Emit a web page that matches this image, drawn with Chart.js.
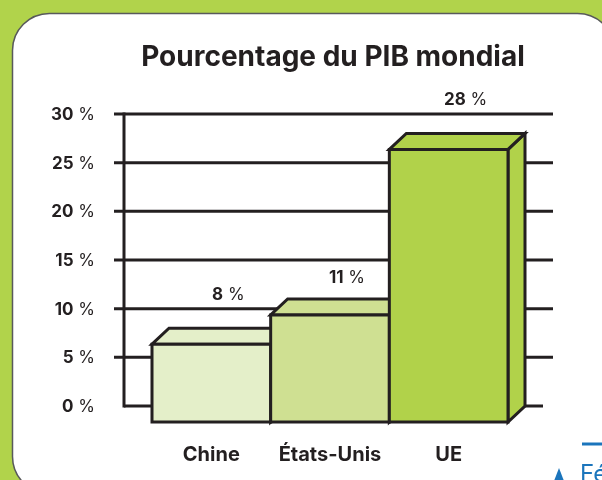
<!DOCTYPE html>
<html>
<head>
<meta charset="utf-8">
<script src="https://cdn.jsdelivr.net/npm/chart.js@4.4.0/dist/chart.umd.min.js"></script>
<style>
  html, body { margin: 0; padding: 0; background: #b1d34b; }
  #wrap { width: 602px; height: 480px; position: relative; }
</style>
</head>
<body>
<div id="wrap"><canvas id="pib" width="602" height="480"></canvas></div>
<script>
var categories = ['Chine', 'États-Unis', 'UE'];
var pibShare = [8, 11, 28];
var yTicks = [0, 5, 10, 15, 20, 25, 30];
var barColors = ['#e4efc9', '#cfe092', '#b1d24a'];

var INK = '#231f20';
var DEPTH_X = 17, DEPTH_Y = 16;

// number in bold, the " %" in regular weight
function drawPercent(c, num, x, y, align, size) {
  c.font = 'bold ' + size + 'px Inter';
  var wNum = c.measureText(num).width;
  c.font = size + 'px Inter';
  var wPct = c.measureText(' %').width;
  var start = align === 'right' ? x - wNum - wPct : x - (wNum + wPct) / 2;
  c.textAlign = 'left';
  c.font = 'bold ' + size + 'px Inter';
  c.fillText(num, start, y);
  c.font = size + 'px Inter';
  c.fillText(' %', start + wNum, y);
}

function roundRect(c, x, y, w, h, r) {
  c.beginPath();
  c.moveTo(x + r, y);
  c.lineTo(x + w - r, y);
  c.arcTo(x + w, y, x + w, y + r, r);
  c.lineTo(x + w, y + h - r);
  c.arcTo(x + w, y + h, x + w - r, y + h, r);
  c.lineTo(x + r, y + h);
  c.arcTo(x, y + h, x, y + h - r, r);
  c.lineTo(x, y + r);
  c.arcTo(x, y, x + r, y, r);
  c.closePath();
}

var panelPlugin = {
  id: 'panel',
  beforeDraw: function(chart) {
    var c = chart.ctx;
    c.save();
    c.fillStyle = '#b1d34b';
    c.fillRect(0, 0, chart.width, chart.height);
    roundRect(c, 12.5, 13.5, 602, 480, 37);
    c.fillStyle = '#ffffff';
    c.fill();
    c.lineWidth = 1.5;
    c.strokeStyle = '#58595b';
    c.stroke();

    // title
    c.fillStyle = INK;
    c.font = 'bold 28px Inter';
    c.textAlign = 'center';
    c.textBaseline = 'alphabetic';
    c.fillText('Pourcentage du PIB mondial', 333, 66);

    // blue bits from the page underneath
    c.strokeStyle = '#1b75bc';
    c.lineWidth = 3;
    c.beginPath();
    c.moveTo(582, 444);
    c.lineTo(602, 444);
    c.stroke();
    c.fillStyle = '#1b75bc';
    c.beginPath();
    c.moveTo(554, 481);
    c.lineTo(559, 468);
    c.lineTo(564, 481);
    c.closePath();
    c.fill();
    c.font = '24px Inter';
    c.textAlign = 'left';
    c.fillText('Fédération', 580, 482);
    c.restore();
  }
};

var box3dPlugin = {
  id: 'box3d',
  beforeDatasetsDraw: function(chart) {
    var c = chart.ctx;
    var y = chart.scales.y;
    var bars = chart.getDatasetMeta(0).data;
    var first = bars[0], last = bars[bars.length - 1];
    var left = first.x - first.width / 2;
    var right = last.x + last.width / 2;
    var axisX = left - DEPTH_X - 28;
    var base = y.getPixelForValue(0);
    var gridYs = yTicks.map(function(v) { return y.getPixelForValue(v); });

    c.save();
    c.strokeStyle = INK;
    c.lineWidth = 3;
    c.lineCap = 'butt';
    c.lineJoin = 'miter';

    // back grid lines
    yTicks.forEach(function(v, k) {
      var py = gridYs[k];
      c.beginPath();
      if (v === 0) {
        c.moveTo(axisX, py);
        c.lineTo(right + 18, py);
      } else {
        c.moveTo(axisX - 10, py);
        c.lineTo(right + 28, py);
      }
      c.stroke();
    });
    c.beginPath();
    c.moveTo(axisX, y.getPixelForValue(30) - 1.5);
    c.lineTo(axisX, base + 1.5);
    c.stroke();

    // y labels
    c.fillStyle = INK;
    c.textBaseline = 'middle';
    yTicks.forEach(function(v, k) {
      drawPercent(c, String(v), 95, gridYs[k] + 1, 'right', 17);
    });

    // boxes, left to right
    bars.forEach(function(bar, i) {
      var x0 = bar.x - bar.width / 2, x1 = bar.x + bar.width / 2;
      var top = bar.y, bot = bar.base;
      var fx0 = x0 - DEPTH_X, fx1 = x1 - DEPTH_X;
      var ftop = top + DEPTH_Y, fbot = bot + DEPTH_Y;
      c.fillStyle = barColors[i];

      // side
      c.beginPath();
      c.moveTo(fx1, ftop); c.lineTo(x1, top); c.lineTo(x1, bot); c.lineTo(fx1, fbot);
      c.closePath(); c.fill(); c.stroke();
      // top
      c.beginPath();
      c.moveTo(fx0, ftop); c.lineTo(x0, top); c.lineTo(x1, top); c.lineTo(fx1, ftop);
      c.closePath(); c.fill(); c.stroke();
      // front
      c.beginPath();
      c.rect(fx0, ftop, fx1 - fx0, fbot - ftop);
      c.fill(); c.stroke();

      // value label, kept clear of the grid lines
      var lblY = top - 16;
      gridYs.forEach(function(g) {
        if (g > lblY - 14 && g < lblY + 3) lblY = g - 9;
      });
      c.fillStyle = INK;
      c.textBaseline = 'alphabetic';
      drawPercent(c, String(pibShare[i]), bar.x, lblY, 'center', 17);

      // category label
      c.font = 'bold 20px Inter';
      c.textAlign = 'center';
      c.fillText(categories[i], bar.x - DEPTH_X, 461);
    });
    c.restore();
    return false;
  }
};

var ctx = document.getElementById('pib').getContext('2d');
var chart = new Chart(ctx, {
  type: 'bar',
  data: {
    labels: categories,
    datasets: [{ data: pibShare, backgroundColor: barColors, barPercentage: 1, categoryPercentage: 1 }]
  },
  options: {
    responsive: false,
    animation: false,
    plugins: { legend: { display: false }, tooltip: { enabled: false } },
    layout: { padding: { left: 169, right: 77, top: 114, bottom: 74 } },
    scales: {
      x: { display: false },
      y: { display: false, min: 0, max: 30 }
    }
  },
  plugins: [panelPlugin, box3dPlugin]
});
</script>
</body>
</html>
